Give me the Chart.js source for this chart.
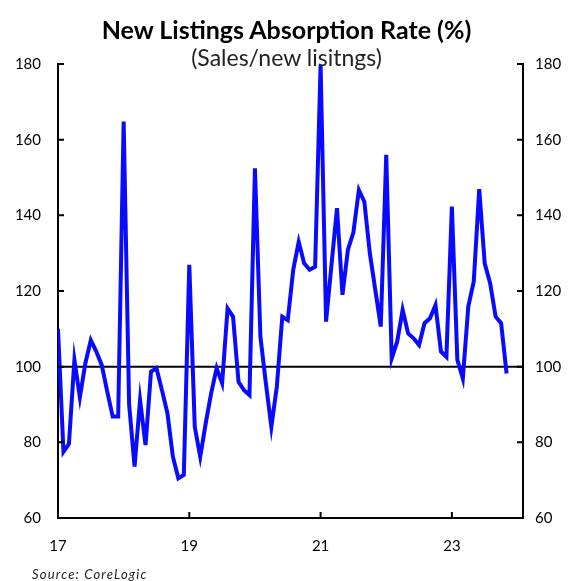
<!DOCTYPE html>
<html>
<head>
<meta charset="utf-8">
<script src="https://cdn.jsdelivr.net/npm/chart.js@4/dist/chart.umd.min.js"></script>
<style>
  body { margin: 0; background: #fff; }
  #wrap { position: relative; width: 573px; height: 581px; font-family: Lato, "Open Sans", sans-serif; }
  #title { position: absolute; left: 0; width: 573px; top: 17px; line-height: 1; text-align: center; font-weight: bold; font-size: 25px; color: #000; }
  #subtitle { position: absolute; left: 0; width: 573px; top: 46px; line-height: 1; text-align: center; font-size: 23px; color: #222; }
  #source { position: absolute; left: 32px; top: 568px; line-height: 1; font-style: italic; font-size: 13px; letter-spacing: 1.2px; color: #222; }
</style>
</head>
<body>
<div id="wrap">
  <canvas id="absorptionChart"></canvas>
  <div id="title">New Listings Absorption Rate (%)</div>
  <div id="subtitle">(Sales/new lisitngs)</div>
  <div id="source">Source: CoreLogic</div>
</div>
<script>
// monthly, Jan 2017 = month 0
var absorptionRate = [
  110, 77.5, 79.6, 101.8, 91.9, 100.9, 107, 104, 100.4, 93.4, 86.8, 86.8,
  164.8, 90, 73.6, 91.2, 79.3, 98.7, 99.6, 93.8, 87.7, 76.2, 70.5, 71.4,
  126.9, 84.1, 76.2, 85, 93, 99.6, 95.6, 115.4, 113.2, 96, 93.8, 92.5,
  152.4, 107.9, 95.6, 84.1, 94.7, 113.2, 112.3, 125.6, 133, 127.3, 125.6, 126.4,
  179.7, 111.9, 127, 141.9, 119, 130.9, 135.5, 146.7, 143.6, 130, 120.3, 110.6,
  156, 102.2, 106.6, 115, 108.8, 107.5, 105.7, 111.5, 112.8, 116.3, 104, 102.6,
  142.3, 101.8, 96.9, 115.9, 122.5, 146.9, 127.3, 122, 113.2, 111.5, 98.2
];
var xTickMonths = [0, 24, 48, 72];
var xTickLabels = ['17', '19', '21', '23'];
var yTicks = [60, 80, 100, 120, 140, 160, 180];
var referenceLevel = 100;
var xAxisEnd = 85;

var points = absorptionRate.map(function (v, i) { return { x: i, y: v }; });

var fontFamily = 'Lato, "Open Sans", sans-serif';

// black line at 100 plus the inward tick marks
var extrasPlugin = {
  id: 'extras',
  beforeDatasetsDraw: function (chart) {
    var ctx = chart.ctx, area = chart.chartArea;
    var y = chart.scales.y.getPixelForValue(referenceLevel);
    ctx.save();
    ctx.strokeStyle = '#000';
    ctx.lineWidth = 2;
    ctx.beginPath();
    ctx.moveTo(area.left, y);
    ctx.lineTo(area.right, y);
    ctx.stroke();
    ctx.restore();
  },
  afterDraw: function (chart) {
    var ctx = chart.ctx, area = chart.chartArea;
    ctx.save();
    ctx.strokeStyle = '#000';
    ctx.lineWidth = 2;
    ctx.beginPath();
    yTicks.forEach(function (t) {
      var py = chart.scales.y.getPixelForValue(t);
      ctx.moveTo(area.left, py); ctx.lineTo(area.left + 6, py);
      var pr = chart.scales.y2.getPixelForValue(t);
      ctx.moveTo(area.right, pr); ctx.lineTo(area.right - 6, pr);
    });
    xTickMonths.forEach(function (m) {
      if (m === 0) return;
      var px = chart.scales.x.getPixelForValue(m);
      ctx.moveTo(px, area.bottom); ctx.lineTo(px, area.bottom - 6);
    });
    ctx.stroke();
    ctx.restore();
  }
};

function fixedTicks(list) {
  return function (scale) {
    scale.ticks = list.map(function (v) { return { value: v }; });
  };
}

var ctx = document.getElementById('absorptionChart');
new Chart(ctx, {
  type: 'line',
  data: {
    datasets: [{
      label: 'Absorption rate',
      data: points,
      borderColor: '#0a0aff',
      borderWidth: 4,
      pointRadius: 0,
      tension: 0,
      yAxisID: 'y'
    }]
  },
  options: {
    responsive: true,
    maintainAspectRatio: false,
    animation: false,
    layout: { padding: { top: 64, left: 0, right: 0, bottom: 0 } },
    plugins: {
      legend: { display: false },
      tooltip: { enabled: false }
    },
    scales: {
      x: {
        type: 'linear',
        min: 0,
        max: xAxisEnd,
        afterBuildTicks: fixedTicks(xTickMonths),
        afterFit: function (s) { s.height = 63; },
        grid: { display: false, drawTicks: false },
        border: { display: true, color: '#000', width: 2 },
        ticks: {
          padding: 19,
          maxRotation: 0,
          color: '#000',
          font: { family: fontFamily, size: 15 },
          callback: function (v) {
            var k = xTickMonths.indexOf(v);
            return k >= 0 ? xTickLabels[k] : '';
          }
        }
      },
      y: {
        position: 'left',
        min: 60,
        max: 180,
        afterBuildTicks: fixedTicks(yTicks),
        afterFit: function (s) { s.width = 58; },
        grid: { display: false, drawTicks: false },
        border: { display: true, color: '#000', width: 2 },
        ticks: { padding: 17, color: '#000', font: { family: fontFamily, size: 15 } }
      },
      y2: {
        position: 'right',
        min: 60,
        max: 180,
        afterBuildTicks: fixedTicks(yTicks),
        afterFit: function (s) { s.width = 50; },
        grid: { display: false, drawTicks: false },
        border: { display: true, color: '#000', width: 2 },
        ticks: { padding: 12, color: '#000', font: { family: fontFamily, size: 15 } }
      }
    }
  },
  plugins: [extrasPlugin]
});
</script>
</body>
</html>
